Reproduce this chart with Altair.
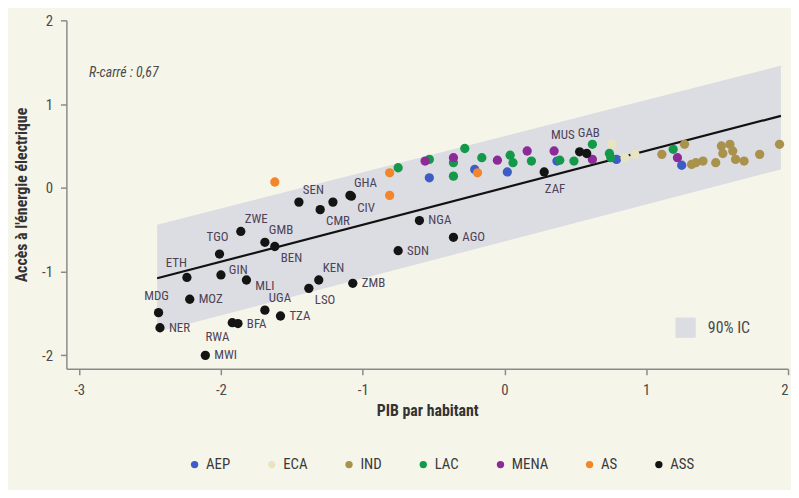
import altair as alt
import pandas as pd

FONT = "Liberation Sans Narrow, Roboto Condensed, DejaVu Sans Condensed, Liberation Sans, sans-serif"

regions = ["AEP", "ECA", "IND", "LAC", "MENA", "AS", "ASS"]
region_colors = ["#3d5cc6", "#e8e4c0", "#a8924c", "#14994a", "#8c2a98", "#f3852a", "#141414"]

# Afrique subsaharienne (ASS)
ass_codes = ["ETH", "TGO", "ZWE", "GMB", "BEN", "GIN", "MLI", "MDG", "NER", "MOZ",
             "RWA", "BFA", "MWI", "UGA", "TZA", "LSO", "KEN", "ZMB", "SEN", "CMR",
             "", "GHA", "CIV", "NGA", "SDN", "AGO", "ZAF", "MUS", "GAB"]
ass_x = [-2.24, -2.01, -1.86, -1.69, -1.62, -2.00, -1.82, -2.44, -2.43, -2.22,
         -1.92, -1.88, -2.11, -1.69, -1.58, -1.38, -1.31, -1.07, -1.45, -1.30,
         -1.21, -1.09, -1.08, -0.60, -0.75, -0.36, 0.28, 0.53, 0.58]
ass_y = [-1.07, -0.79, -0.52, -0.65, -0.70, -1.04, -1.10, -1.49, -1.67, -1.33,
         -1.61, -1.62, -2.00, -1.46, -1.53, -1.20, -1.10, -1.14, -0.17, -0.26,
         -0.17, -0.09, -0.10, -0.39, -0.75, -0.59, 0.19, 0.43, 0.41]

as_x = [-1.62, -0.81, -0.81, -0.19]
as_y = [0.07, 0.18, -0.09, 0.18]

lac_x = [-0.75, -0.53, -0.36, -0.28, -0.36, -0.16, 0.04, 0.06, 0.19, 0.39, 0.49, 0.62, 0.74, 0.75, 1.19]
lac_y = [0.24, 0.34, 0.30, 0.47, 0.14, 0.36, 0.39, 0.30, 0.32, 0.33, 0.32, 0.52, 0.41, 0.36, 0.46]

mena_x = [-0.56, -0.36, -0.05, 0.16, 0.35, 0.62, 1.22]
mena_y = [0.32, 0.36, 0.33, 0.44, 0.44, 0.34, 0.36]

aep_x = [-0.53, -0.21, 0.02, 0.37, 0.79, 1.25]
aep_y = [0.12, 0.22, 0.19, 0.32, 0.34, 0.27]

eca_x = [0.76, 0.85, 0.92]
eca_y = [0.52, 0.36, 0.40]

ind_x = [1.11, 1.27, 1.32, 1.35, 1.40, 1.49, 1.53, 1.59, 1.61, 1.63, 1.54, 1.69, 1.80, 1.94]
ind_y = [0.40, 0.52, 0.28, 0.30, 0.32, 0.30, 0.50, 0.52, 0.44, 0.34, 0.41, 0.32, 0.40, 0.52]

# Droite de régression et intervalle de confiance à 90 %
fit_x = [-2.45, 1.95]
fit_y = [-1.08, 0.86]
ci_lo = [-1.72, 0.22]
ci_hi = [-0.44, 1.46]

r2_text = "R-carré : 0,67"
r2_pos = [-2.93, 1.37]

# placement of each country label around its point
label_place = {
    "ETH": "al", "TGO": "a", "ZWE": "ar", "GMB": "ar", "BEN": "br", "GIN": "ru",
    "MLI": "rd", "MDG": "a", "NER": "r", "MOZ": "r", "RWA": "bl", "BFA": "r",
    "MWI": "r", "UGA": "ar", "TZA": "r", "LSO": "br", "KEN": "ar", "ZMB": "r",
    "SEN": "ar", "CMR": "br", "GHA": "ar", "CIV": "br", "NGA": "r", "SDN": "r",
    "AGO": "r", "ZAF": "b", "MUS": "alh", "GAB": "arh",
}
place_style = {
    "r": dict(dx=9, dy=0, align="left"),
    "ru": dict(dx=8, dy=-5, align="left"),
    "rd": dict(dx=9, dy=6, align="left"),
    "ar": dict(dx=4, dy=-12, align="left"),
    "br": dict(dx=6, dy=12, align="left"),
    "al": dict(dx=0, dy=-15, align="right"),
    "alh": dict(dx=-5, dy=-17, align="right"),
    "arh": dict(dx=-9, dy=-21, align="left"),
    "bl": dict(dx=-3, dy=14, align="right"),
    "a": dict(dx=-2, dy=-17, align="center"),
    "b": dict(dx=11, dy=17, align="center"),
}

rows = []
def add(reg, xs, ys, codes=None):
    for i, (a, b) in enumerate(zip(xs, ys)):
        rows.append({"region": reg, "x": a, "y": b,
                     "code": codes[i] if codes else ""})

add("AEP", aep_x, aep_y)
add("ECA", eca_x, eca_y)
add("IND", ind_x, ind_y)
add("LAC", lac_x, lac_y)
add("MENA", mena_x, mena_y)
add("AS", as_x, as_y)
add("ASS", ass_x, ass_y, ass_codes)
pts = pd.DataFrame(rows)
pts["place"] = pts["code"].map(label_place).fillna("")

band = pd.DataFrame({"x": fit_x, "y": ci_lo, "y2": ci_hi, "key": ["90% IC"] * 2})
fit = pd.DataFrame({"x": fit_x, "y": fit_y})
ann = pd.DataFrame({"x": [r2_pos[0]], "y": [r2_pos[1]], "t": [r2_text]})

xscale = alt.Scale(domain=[-3.09, 2.0], nice=False, zero=False)
yscale = alt.Scale(domain=[-2.16, 2.0], nice=False, zero=False)

x_axis = alt.Axis(title="PIB par habitant", values=[-3, -2, -1, 0, 1, 2],
                  labelExpr="'' + datum.value", tickSize=6, labelPadding=8,
                  titlePadding=5)
y_axis = alt.Axis(title="Accès à l'énergie électrique", values=[-2, -1, 0, 1, 2],
                  labelExpr="'' + datum.value", tickSize=6, labelPadding=8,
                  titlePadding=12)

band_layer = alt.Chart(band).mark_area(opacity=1).encode(
    x=alt.X("x:Q", scale=xscale, axis=x_axis),
    y=alt.Y("y:Q", scale=yscale, axis=y_axis),
    y2="y2:Q",
    fill=alt.Fill("key:N", scale=alt.Scale(domain=["90% IC"], range=["#dcdde3"]),
                  legend=alt.Legend(orient="none", legendX=615, legendY=300, title=None,
                                    symbolType="square", symbolSize=420,
                                    symbolStrokeWidth=0, labelFontSize=16,
                                    labelOffset=12, padding=0, labelColor="#4a4a4a")),
)

line_layer = alt.Chart(fit).mark_line(color="#111111", strokeWidth=2.2).encode(
    x=alt.X("x:Q", scale=xscale),
    y=alt.Y("y:Q", scale=yscale),
)

point_layer = alt.Chart(pts).mark_circle(size=88, opacity=1).encode(
    x=alt.X("x:Q", scale=xscale),
    y=alt.Y("y:Q", scale=yscale),
    color=alt.Color("region:N", scale=alt.Scale(domain=regions, range=region_colors),
                    legend=alt.Legend(orient="none", legendX=122, legendY=441,
                                      direction="horizontal", title=None,
                                      symbolType="circle", symbolSize=55,
                                      symbolStrokeWidth=0, labelFontSize=15,
                                      labelOffset=4, columnPadding=34, padding=0,
                                      labelColor="#3a3a3a")),
)

text_layers = []
for key, st in place_style.items():
    text_layers.append(
        alt.Chart(pts).transform_filter(alt.datum.place == key).mark_text(
            fontSize=13, color="#4d4358", baseline="middle", **st
        ).encode(
            x=alt.X("x:Q", scale=xscale),
            y=alt.Y("y:Q", scale=yscale),
            text="code:N",
        )
    )

ann_layer = alt.Chart(ann).mark_text(
    fontSize=14, fontStyle="italic", color="#4a4a4a", align="left", baseline="middle"
).encode(
    x=alt.X("x:Q", scale=xscale),
    y=alt.Y("y:Q", scale=yscale),
    text="t:N",
)

chart = alt.layer(band_layer, line_layer, point_layer, *text_layers, ann_layer).properties(
    width=729, height=352,
    autosize=alt.AutoSizeParams(type="none"),
    padding={"left": 59, "top": 10, "right": 3, "bottom": 120},
    background="#f6f5ea",
).configure_view(stroke=None).configure_axis(
    grid=False, domainColor="#8a8a8a", domainWidth=1.5, tickColor="#8a8a8a",
    tickWidth=1.5, labelFont=FONT, labelFontSize=15, labelColor="#4a4a4a",
    titleFont=FONT, titleFontSize=16, titleFontWeight="bold", titleColor="#333333",
).configure_legend(labelFont=FONT).configure_text(font=FONT)

chart.save("out.html", embed_options={"renderer": "svg", "actions": False})
